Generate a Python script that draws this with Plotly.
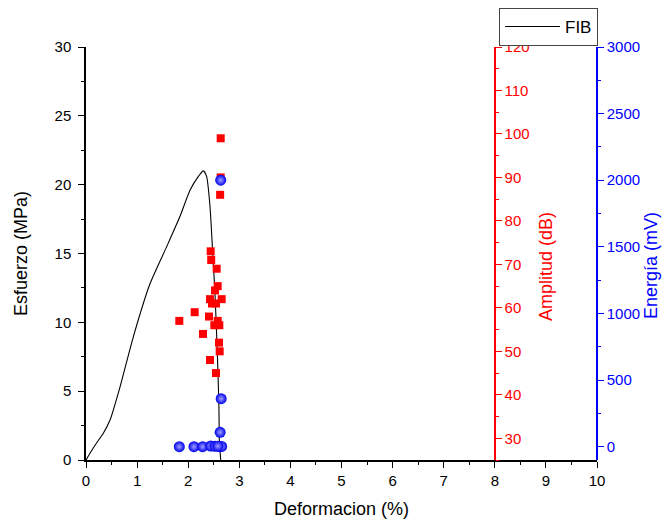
import plotly.graph_objects as go

# Stress-strain curve (FIB)
strain = [0.0, 0.078, 0.2, 0.339, 0.47, 0.665, 0.926, 1.252, 1.579, 1.84, 2.035, 2.2, 2.296,
          2.36, 2.427, 2.48, 2.524, 2.57, 2.6, 2.61, 2.636]
stress = [0.0, 0.49, 1.2, 1.94, 2.9, 5.3, 8.95, 12.8, 15.5, 17.7, 19.6, 20.6, 21.0,
          20.6, 18.4, 15.0, 12.1, 7.75, 4.1, 1.45, 0.0]

# Acoustic emission amplitude (dB)
amp_x = [2.636, 2.636, 2.625, 2.44, 2.45, 2.557, 2.577, 2.524, 2.427, 2.655, 2.466, 2.544,
         2.127, 1.826, 2.407, 2.577, 2.511, 2.609, 2.29, 2.603, 2.616, 2.427, 2.544]
amp_db = [99, 90, 86, 73, 71, 69, 65, 64, 62, 62, 61, 61,
          59, 57, 58, 57, 56, 56, 54, 52, 50, 48, 45]

# Acoustic emission energy (mV)
en_x = [2.636, 2.645, 2.625, 1.826, 2.113, 2.283, 2.44, 2.524, 2.622, 2.655, 2.58]
en_mv = [2000, 360, 108, 0, 0, 0, 5, 3, 0, 2, 4]

FONT = "Liberation Sans, Arial, sans-serif"

W, H = 654, 513
L, T, PW, PH = 78, 39, 511, 413

fig = go.Figure()
fig.add_trace(go.Scatter(x=strain, y=stress, mode="lines", name="FIB",
                         line=dict(color="black", width=1.1, shape="spline", smoothing=0.6),
                         yaxis="y"))
fig.add_trace(go.Scatter(x=amp_x, y=amp_db, mode="markers", showlegend=False,
                         marker=dict(symbol="square", size=8, color="#ff0000"),
                         yaxis="y2"))
fig.add_trace(go.Scatter(x=en_x, y=en_mv, mode="markers", showlegend=False,
                         marker=dict(symbol="circle", size=11, color="#0000ee",
                                     gradient=dict(type="radial", color="#a0a0ff"),
                                     line=dict(width=0)),
                         yaxis="y3"))

def axis_style(color):
    return dict(ticks="outside", ticklen=6, tickwidth=1.2, showgrid=False, zeroline=False,
                showline=True, linewidth=1.5, linecolor=color, tickcolor=color,
                tickfont=dict(family=FONT, size=15, color=color), automargin=False)

fig.update_layout(
    width=W, height=H,
    margin=dict(l=L, r=W - L - PW, t=T, b=H - T - PH, autoexpand=False),
    plot_bgcolor="white", paper_bgcolor="white",
    font=dict(family=FONT, color="black"),
    xaxis=dict(range=[0, 10], dtick=1,
               title=dict(text="Deformacion (%)", font=dict(size=18, color="black"), standoff=15),
               minor=dict(dtick=0.5, ticks="outside", ticklen=3, tickcolor="black"),
               **axis_style("black")),
    yaxis=dict(range=[0, 30], dtick=5, ticklabelstandoff=4,
               title=dict(text="Esfuerzo (MPa)", font=dict(size=18, color="black"), standoff=22),
               minor=dict(dtick=2.5, ticks="outside", ticklen=3, tickcolor="black"),
               **axis_style("black")),
    yaxis2=dict(range=[25, 120], tick0=30, dtick=10, overlaying="y", side="right",
                anchor="free", position=0.8,
                minor=dict(tick0=30, dtick=5, ticks="outside", ticklen=3, tickcolor="#ff0000"),
                **axis_style("#ff0000")),
    yaxis3=dict(range=[-100, 3000], tick0=0, dtick=500, overlaying="y", side="right",
                anchor="free", position=1.0,
                minor=dict(tick0=0, dtick=250, ticks="outside", ticklen=3, tickcolor="#0000ff"),
                **axis_style("#0000ff")),
    legend=dict(xref="container", yref="container", x=590 / W, y=1.0,
                xanchor="right", yanchor="top", itemwidth=55,
                bordercolor="#444444", borderwidth=1, bgcolor="white",
                font=dict(family=FONT, size=17)),
    annotations=[
        dict(text="Amplitud (dB)", xref="paper", yref="paper",
             x=(538 - L) / PW, y=(T + PH - 259) / PH, textangle=-90, showarrow=False,
             xanchor="center", yanchor="middle",
             font=dict(family=FONT, size=18, color="#ff0000")),
        dict(text="Energía (mV)", xref="paper", yref="paper",
             x=(643 - L) / PW, y=(T + PH - 258) / PH, textangle=-90, showarrow=False,
             xanchor="center", yanchor="middle",
             font=dict(family=FONT, size=18, color="#0000ff")),
    ],
)

fig.write_html("out.html")
